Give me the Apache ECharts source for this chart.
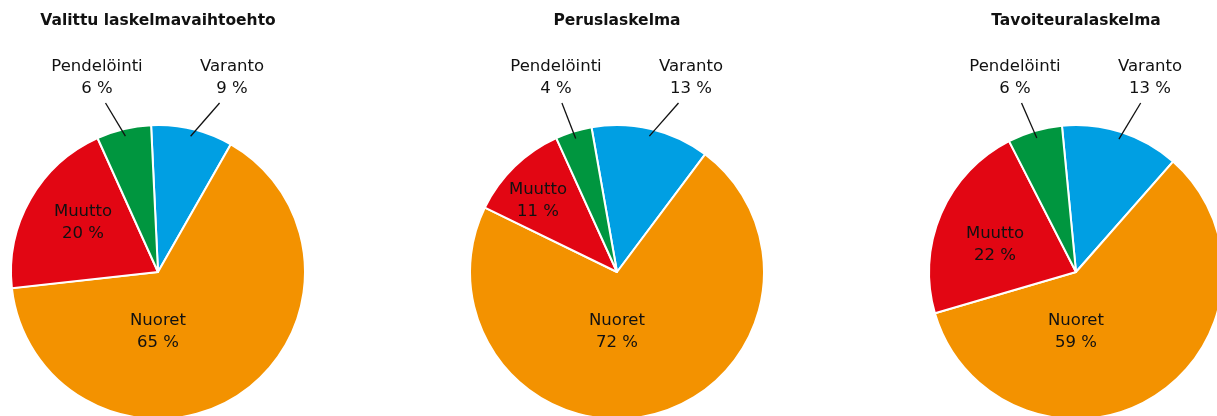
<!DOCTYPE html>
<html>
<head>
<meta charset="utf-8">
<script src="https://cdn.jsdelivr.net/npm/echarts@6/dist/echarts.min.js"></script>
<style>
  html, body { margin: 0; padding: 0; background: #ffffff; }
  #chart { width: 1217px; height: 416px; }
</style>
</head>
<body>
<div id="chart"></div>
<script>
// Slice categories, in clockwise order from the top of each pie
const categories = ['Varanto', 'Nuoret', 'Muutto', 'Pendelöinti'];
const scenarioTitles = ['Valittu laskelmavaihtoehto', 'Peruslaskelma', 'Tavoiteuralaskelma'];

// Shares (%) per scenario, same order as categories
const valittuValues = [9, 65, 20, 6];
const perusValues = [13, 72, 11, 4];
const tavoiteValues = [13, 59, 22, 6];

const sliceColors = ['#009FE3', '#F39200', '#E20613', '#00963F'];

// Layout of the three pies (pixels), their rotation and inner label offsets
const pieCenterY = 272;
const pieRadius = 147;
const pieLayout = [
  { values: valittuValues, cx: 158, startAngle: 92.7, muuttoOffset: [-75, -49] },
  { values: perusValues, cx: 617, startAngle: 100, muuttoOffset: [-79, -71] },
  { values: tavoiteValues, cx: 1076, startAngle: 95.5, muuttoOffset: [-81, -27] }
];

const textColor = '#111111';
const fontFamily = '"DejaVu Sans", "Noto Sans", sans-serif';
const outerLabelY = 77.5;   // middle of the two-line labels above the pies
const leaderTopY = 103;     // where leader lines leave the labels

// Mid angle (radians, counter-clockwise from 3 o'clock) of a slice
function midAngle(pie, idx) {
  const total = pie.values.reduce((a, b) => a + b, 0);
  let before = 0;
  for (let i = 0; i < idx; i++) before += pie.values[i];
  const deg = pie.startAngle - (before + pie.values[idx] / 2) / total * 360;
  return deg * Math.PI / 180;
}

function polarPoint(pie, angle, frac) {
  return [
    pie.cx + Math.cos(angle) * pieRadius * frac,
    pieCenterY - Math.sin(angle) * pieRadius * frac
  ];
}

const isOuter = name => name === 'Varanto' || name === 'Pendelöinti';
const outerLabelX = (pie, name) => name === 'Varanto' ? pie.cx + 74 : pie.cx - 61;

// Label placement: small slices are labelled above the pie, the rest inside
function placeLabel(pie, idx) {
  const name = categories[idx];
  if (name === 'Nuoret') {
    return { x: pie.cx, y: pieCenterY + 60, align: 'center', verticalAlign: 'middle' };
  }
  if (name === 'Muutto') {
    return {
      x: pie.cx + pie.muuttoOffset[0], y: pieCenterY + pie.muuttoOffset[1],
      align: 'center', verticalAlign: 'middle'
    };
  }
  return { x: outerLabelX(pie, name), y: outerLabelY, align: 'center', verticalAlign: 'middle' };
}

// Leader lines: one per outer label, pointing into its slice
const leaderItems = [];
pieLayout.forEach((pie, p) => {
  categories.forEach((c, i) => { if (isOuter(c)) leaderItems.push([p, i]); });
});

const chart = echarts.init(document.getElementById('chart'), null, { renderer: 'canvas' });

const pieSeries = pieLayout.map(pie => ({
  type: 'pie',
  center: [pie.cx, pieCenterY],
  radius: [0, pieRadius],
  startAngle: pie.startAngle,
  clockwise: true,
  silent: true,
  avoidLabelOverlap: false,
  itemStyle: { borderColor: '#ffffff', borderWidth: 2 },
  label: {
    show: true,
    position: 'outside',
    formatter: '{b}\n{c} %',
    fontFamily: fontFamily,
    fontSize: 16.5,
    lineHeight: 22,
    color: textColor,
    align: 'center'
  },
  labelLine: { show: false },
  labelLayout: params => placeLabel(pie, params.dataIndex),
  data: categories.map((c, i) => ({
    name: c,
    value: pie.values[i],
    itemStyle: { color: sliceColors[i] }
  }))
}));

const leaderSeries = {
  type: 'custom',
  coordinateSystem: 'none',
  silent: true,
  z: 5,
  data: leaderItems,
  renderItem: (params, api) => {
    const pie = pieLayout[api.value(0)];
    const idx = api.value(1);
    const end = polarPoint(pie, midAngle(pie, idx), 0.95);
    const lx = outerLabelX(pie, categories[idx]);
    const start = [lx + (end[0] - lx) * 0.3, leaderTopY];
    return {
      type: 'polyline',
      shape: { points: [start, end] },
      style: { stroke: '#111111', lineWidth: 1.3, fill: null }
    };
  }
};

const option = {
  animation: false,
  backgroundColor: '#ffffff',
  title: scenarioTitles.map((t, i) => ({
    text: t,
    left: pieLayout[i].cx,
    top: 13,
    padding: 0,
    textAlign: 'center',
    textStyle: {
      fontFamily: fontFamily,
      fontWeight: 'bold',
      fontSize: 15.5,
      color: textColor
    }
  })),
  series: pieSeries.concat([leaderSeries])
};

chart.setOption(option);
</script>
</body>
</html>
